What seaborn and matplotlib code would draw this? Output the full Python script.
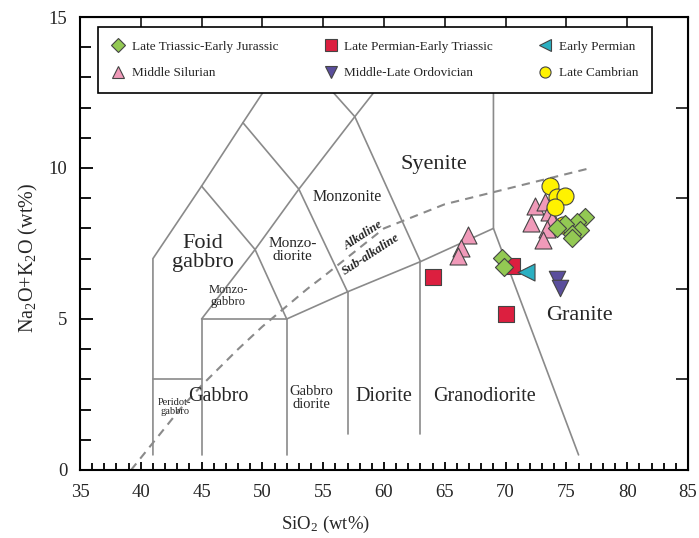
import matplotlib
matplotlib.use("Agg")
import matplotlib.pyplot as plt
import numpy as np
import pandas as pd
import seaborn as sns
from matplotlib.lines import Line2D
from matplotlib.ticker import MultipleLocator

sns.set_style("ticks")
plt.rcParams['font.family'] = ['Liberation Serif', 'DejaVu Serif']
plt.rcParams['mathtext.fontset'] = 'custom'
plt.rcParams['mathtext.rm'] = 'Liberation Serif'
plt.rcParams['mathtext.it'] = 'Liberation Serif:italic'
plt.rcParams['mathtext.bf'] = 'Liberation Serif:bold'

# ---- sample compositions (SiO2, Na2O+K2O in wt%) ----
groups = ["Late Triassic-Early Jurassic", "Middle Silurian",
          "Late Permian-Early Triassic", "Middle-Late Ordovician",
          "Early Permian", "Late Cambrian"]

tj_sio2 = [76.5, 75.9, 74.9, 74.2, 76.1, 75.5, 75.5, 69.7, 69.9]
tj_alk = [8.38, 8.21, 8.15, 8.01, 7.95, 7.81, 7.68, 7.02, 6.72]

sil_sio2 = [72.4, 73.2, 73.6, 73.8, 72.1, 73.4, 73.1, 66.9, 66.3, 66.1]
sil_alk = [8.74, 8.87, 8.54, 8.28, 8.18, 7.98, 7.62, 7.78, 7.35, 7.09]

pt_sio2 = [64.0, 70.5, 70.0]
pt_alk = [6.39, 6.75, 5.17]

ord_sio2 = [74.2, 74.5]
ord_alk = [6.32, 6.02]

ep_sio2 = [71.7]
ep_alk = [6.57]

cam_sio2 = [73.65, 74.2, 74.9, 74.1, 74.7]
cam_alk = [9.40, 9.04, 9.07, 8.71, 8.11]

sio2_sets = [tj_sio2, sil_sio2, pt_sio2, ord_sio2, ep_sio2, cam_sio2]
alk_sets = [tj_alk, sil_alk, pt_alk, ord_alk, ep_alk, cam_alk]

colors = ["#93c953", "#f09ab9", "#dc1f3f", "#5a4e9c", "#2bb0c2", "#fff200"]
markers = ["D", "^", "s", "v", "<", "o"]
sizes = [85, 150, 130, 140, 150, 150]
layers = [5, 3, 4, 4, 4, 4]

df = pd.DataFrame({
    "SiO2": np.concatenate(sio2_sets),
    "alk": np.concatenate(alk_sets),
    "group": np.concatenate([[g] * len(s) for g, s in zip(groups, sio2_sets)]),
})

# ---- TAS plutonic classification boundaries (Middlemost 1994) ----
boundaries = [
    [(41, 0.5), (41, 7), (45, 9.4), (48.4, 11.5), (52.5, 14)],
    [(41, 3), (45, 3)],
    [(45, 0.5), (45, 5), (52, 5), (52, 0.5)],
    [(45, 5), (49.4, 7.3), (53, 9.3), (57.6, 11.7), (61.5, 13.7)],
    [(45, 9.4), (49.4, 7.3), (52, 5)],
    [(48.4, 11.5), (53, 9.3), (57, 5.9)],
    [(52.5, 14), (57.6, 11.7), (63, 6.9)],
    [(52, 5), (57, 5.9), (63, 6.9), (69, 8)],
    [(57, 5.9), (57, 1.2)],
    [(63, 6.9), (63, 1.2)],
    [(69, 14), (69, 8), (76.0, 0.5)],
]

# alkaline / sub-alkaline divide (Irvine & Baragar 1971)
ib_sio2 = [39.2, 40, 43.2, 45, 48, 50, 53.7, 55, 60, 65, 77.0]
ib_alk = [0, 0.4, 2.0, 2.8, 4.0, 4.75, 6.0, 6.4, 8.0, 8.8, 10.0]

field_labels = [
    ("Foid\ngabbro", 45.1, 7.2, 16),
    ("Monzonite", 57.0, 9.05, 11.5),
    ("Monzo-\ndiorite", 52.5, 7.3, 11),
    ("Monzo-\ngabbro", 47.2, 5.75, 9),
    ("Syenite", 64.1, 10.1, 16),
    ("Granite", 76.1, 5.1, 16),
    ("Gabbro", 46.4, 2.45, 14.5),
    ("Gabbro\ndiorite", 54.0, 2.4, 10.5),
    ("Diorite", 60.0, 2.45, 14.5),
    ("Granodiorite", 68.3, 2.45, 14.5),
    ("Peridot-\ngabbro", 42.8, 2.1, 7.5),
]

fig = plt.figure(figsize=(6.99, 5.38), dpi=100)
ax = fig.add_axes([0.1144, 0.1264, 0.8699, 0.842])

line_color = "#8a8a8a"
for seg in boundaries:
    xs, ys = zip(*seg)
    ax.plot(xs, ys, color=line_color, lw=1.2, zorder=1, solid_joinstyle="miter")
ax.plot(ib_sio2, ib_alk, color=line_color, lw=1.5, ls=(0, (4, 3)), zorder=1)

for txt, x, y, fs in field_labels:
    ax.text(x, y, txt, fontsize=fs, ha="center", va="center", linespacing=1.0, zorder=2)

ax.text(58.3, 7.75, "Alkaline", fontsize=9, fontweight="bold", style="italic",
        rotation=33, ha="center", va="center", zorder=2)
ax.text(58.9, 7.15, "Sub-alkaline", fontsize=9, fontweight="bold", style="italic",
        rotation=33, ha="center", va="center", zorder=2)

for g, c, m, s, z in zip(groups, colors, markers, sizes, layers):
    sns.scatterplot(data=df[df.group == g], x="SiO2", y="alk", ax=ax, marker=m,
                    color=c, s=s, edgecolor="#444444", linewidth=0.8,
                    zorder=z, legend=False)

ax.set_xlim(35, 85)
ax.set_ylim(0, 15)
ax.xaxis.set_major_locator(MultipleLocator(5))
ax.xaxis.set_minor_locator(MultipleLocator(1))
ax.yaxis.set_major_locator(MultipleLocator(5))
ax.yaxis.set_minor_locator(MultipleLocator(1))
ax.tick_params(axis="both", which="both", direction="in", width=1.3,
               color="black", top=False, right=False)
ax.tick_params(axis="x", which="major", length=6, pad=10, labelsize=13.5)
ax.tick_params(axis="x", which="minor", length=5)
ax.tick_params(axis="y", which="major", length=9, pad=9, labelsize=13.5)
ax.tick_params(axis="y", which="minor", length=8)
for sp in ax.spines.values():
    sp.set_linewidth(1.5)
    sp.set_color("black")

top = ax.secondary_xaxis("top")
top.set_xticks(np.arange(40, 85, 5))
top.tick_params(direction="in", length=8, width=1.3, labeltop=False)
right = ax.secondary_yaxis("right")
right.set_yticks([3, 6, 9, 12])
right.tick_params(direction="in", length=9, width=1.3, labelright=False)

ax.set_xlabel("SiO$_2$ (wt%)", fontsize=13.5)
ax.set_ylabel("Na$_2$O+K$_2$O (wt%)", fontsize=14.5)
ax.xaxis.set_label_coords(0.403, -0.097)
ax.yaxis.set_label_coords(-0.066, 0.468)

handles = [Line2D([], [], ls="none", marker=m, markersize=ms, markerfacecolor=c,
                  markeredgecolor="#444444", markeredgewidth=0.8)
           for c, m, ms in zip(colors, markers, [7, 8, 8, 8, 8, 8])]
leg = ax.legend(handles, groups, ncol=3, loc="upper left",
                bbox_to_anchor=(0.0296, 0.978, 0.911, 0.0), mode="expand",
                borderaxespad=0, fontsize=9.5, frameon=True, fancybox=False,
                edgecolor="black", framealpha=1, handlelength=1.0,
                handletextpad=0.5, labelspacing=1.05, borderpad=1.05)
leg.get_frame().set_linewidth(1.2)
leg.set_zorder(6)

fig.savefig("out.png", dpi=100)
